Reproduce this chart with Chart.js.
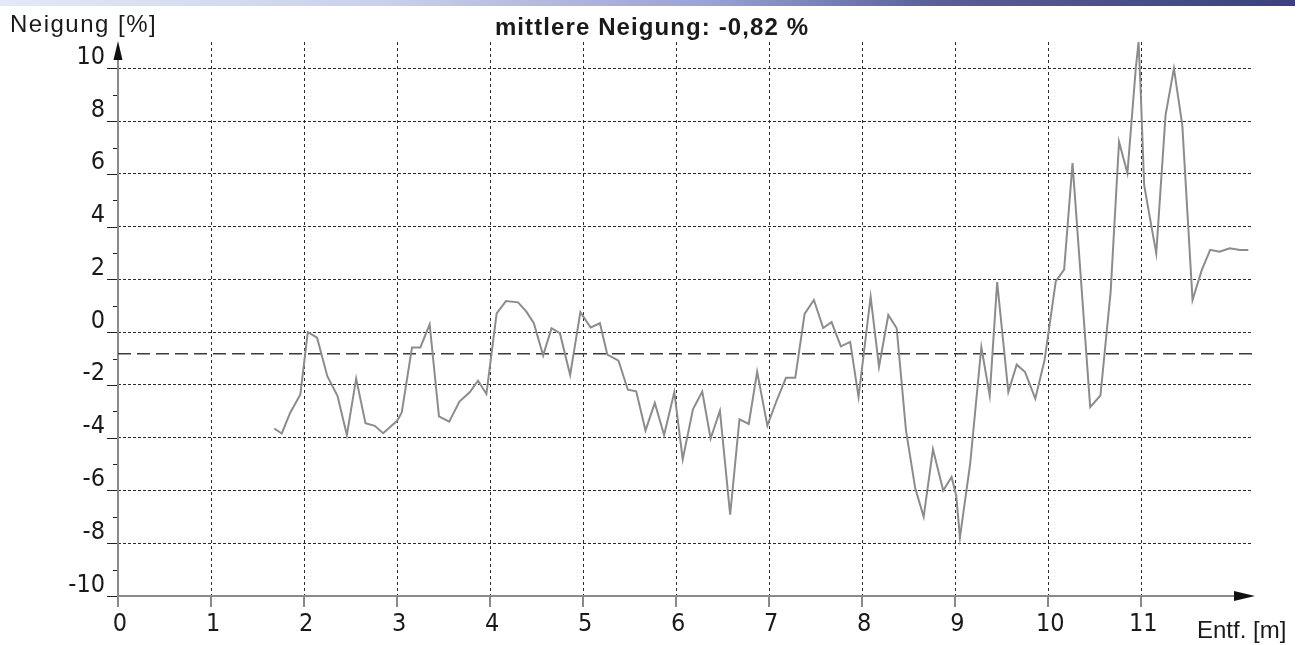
<!DOCTYPE html>
<html><head><meta charset="utf-8">
<script src="https://cdn.jsdelivr.net/npm/chart.js@4.4.1/dist/chart.umd.min.js"></script>
<style>
html,body{margin:0;padding:0;background:#fff;}
#wrap{position:relative;width:1299px;height:645px;overflow:hidden;background:#fff;}
#bar{position:absolute;left:0;top:0;width:1295px;height:6px;background:linear-gradient(to right,#e4e9f6 0%,#c9d0ea 30%,#9aa2cf 55%,#5a5f9a 72%,#3c4080 100%);}
canvas{position:absolute;left:0;top:0;}
</style></head>
<body><div id="wrap"><canvas id="c" width="1299" height="645"></canvas><div id="bar"></div></div>
<script>
const TITLE = 'mittlere Neigung: -0,82 %';
const Y_LABEL = 'Neigung [%]';
const X_LABEL = 'Entf. [m]';
const MEAN = -0.82;
const X_MAX = 12.2;
const Y_MIN = -10;
const Y_MAX = 11;
const X_TICKS = [0,1,2,3,4,5,6,7,8,9,10,11];
const Y_TICKS = [-10,-8,-6,-4,-2,0,2,4,6,8,10];
const Y_MINOR = [-9,-7,-5,-3,-1,1,3,5,7,9];
const DIST = [1.68,1.76,1.85,1.96,2.04,2.14,2.25,2.36,2.46,2.56,
  2.66,2.76,2.85,3.00,3.05,3.16,3.25,3.35,3.45,3.56,
  3.67,3.78,3.87,3.96,4.07,4.17,4.30,4.39,4.47,4.57,
  4.66,4.75,4.86,4.97,5.08,5.18,5.26,5.38,5.48,5.57,
  5.67,5.77,5.87,5.98,6.07,6.18,6.28,6.37,6.47,6.58,
  6.68,6.78,6.87,6.98,7.08,7.18,7.28,7.38,7.48,7.58,
  7.67,7.77,7.87,7.96,8.09,8.18,8.28,8.37,8.47,8.57,
  8.66,8.76,8.87,8.96,9.01,9.05,9.16,9.28,9.37,9.45,
  9.57,9.66,9.75,9.86,9.96,10.08,10.17,10.26,10.45,10.56,
  10.67,10.76,10.85,10.94,10.97,10.99,11.03,11.08,11.16,11.26,
  11.35,11.44,11.55,11.65,11.74,11.84,11.95,12.06,12.15];
const SLOPE = [-3.65,-3.84,-3.06,-2.36,0.0,-0.21,-1.67,-2.42,-3.90,-1.76,
  -3.45,-3.55,-3.83,-3.36,-3.04,-0.58,-0.58,0.30,-3.19,-3.39,
  -2.63,-2.28,-1.84,-2.34,0.71,1.18,1.13,0.78,0.34,-0.88,
  0.15,-0.04,-1.62,0.76,0.18,0.34,-0.85,-1.08,-2.18,-2.24,
  -3.73,-2.68,-3.90,-2.27,-4.82,-2.92,-2.25,-4.03,-2.98,-6.92,
  -3.30,-3.48,-1.50,-3.54,-2.59,-1.73,-1.73,0.69,1.22,0.16,
  0.38,-0.54,-0.37,-2.45,1.34,-1.31,0.65,0.15,-3.72,-5.93,
  -7.00,-4.44,-6.00,-5.49,-6.2,-7.78,-4.98,-0.57,-2.40,1.90,
  -2.27,-1.23,-1.51,-2.52,-1.05,1.93,2.37,6.41,-2.84,-2.4,
  1.54,7.22,6.03,10.0,11.0,9.4,5.58,4.57,2.99,8.23,
  10.0,7.85,1.22,2.36,3.12,3.05,3.18,3.12,3.12];

const TICK_FONT = {family: "'Liberation Sans Narrow', 'Arial Narrow', 'DejaVu Sans Condensed', sans-serif", size: 25};
const TEXT_COLOR = '#1a1a1a';

const decor = {
  id: 'decor',
  beforeDatasetsDraw(chart) {
    const {ctx, chartArea: a, scales: {x, y}} = chart;
    ctx.save();
    ctx.setLineDash([]);
    ctx.strokeStyle = '#222'; ctx.lineWidth = 1;
    Y_TICKS.forEach(v => { const py = Math.round(y.getPixelForValue(v)) + 0.5; ctx.beginPath(); ctx.moveTo(a.left - 11, py); ctx.lineTo(a.left, py); ctx.stroke(); });
    Y_MINOR.forEach(v => { const py = Math.round(y.getPixelForValue(v)) + 0.5; ctx.beginPath(); ctx.moveTo(a.left - 5, py); ctx.lineTo(a.left, py); ctx.stroke(); });
    ctx.strokeStyle = '#8a8a8a'; ctx.lineWidth = 2;
    X_TICKS.forEach(v => { const px = Math.round(x.getPixelForValue(v)); ctx.beginPath(); ctx.moveTo(px, a.bottom); ctx.lineTo(px, a.bottom + 11); ctx.stroke(); });
    ctx.beginPath(); ctx.moveTo(a.left, a.bottom); ctx.lineTo(a.left, a.top + 12); ctx.stroke();
    ctx.beginPath(); ctx.moveTo(a.left, a.bottom); ctx.lineTo(a.right - 15, a.bottom); ctx.stroke();
    ctx.fillStyle = '#111';
    ctx.beginPath(); ctx.moveTo(a.left, a.top - 1); ctx.lineTo(a.left - 4.5, a.top + 18); ctx.lineTo(a.left + 4.5, a.top + 18); ctx.closePath(); ctx.fill();
    ctx.beginPath(); ctx.moveTo(a.right + 2, a.bottom); ctx.lineTo(a.right - 19, a.bottom - 5); ctx.lineTo(a.right - 19, a.bottom + 5); ctx.closePath(); ctx.fill();
    ctx.restore();
  },
  afterDraw(chart) {
    const {ctx} = chart;
    ctx.save();
    ctx.fillStyle = TEXT_COLOR;
    ctx.textBaseline = 'alphabetic';
    ctx.font = "24px 'Liberation Sans', Arial, sans-serif";
    ctx.textAlign = 'left';
    ctx.letterSpacing = '1.5px';
    ctx.fillText(Y_LABEL, 10, 32);
    ctx.letterSpacing = '0px';
    ctx.fillText(X_LABEL, 1197, 638);
    ctx.font = "bold 24px 'Liberation Sans', Arial, sans-serif";
    ctx.textAlign = 'center';
    ctx.letterSpacing = '1.1px';
    ctx.fillText(TITLE, 652, 35);
    ctx.letterSpacing = '0px';
    ctx.restore();
  }
};

new Chart(document.getElementById('c'), {
  type: 'line',
  data: {
    datasets: [
      {data: DIST.map((d, i) => ({x: d, y: SLOPE[i]})), borderColor: '#8c8c8c', borderWidth: 2, pointRadius: 0, tension: 0, fill: false, clip: false},
      {data: [{x: 0, y: MEAN}, {x: X_MAX, y: MEAN}], borderColor: '#3a3a3a', borderWidth: 1.5, borderDash: [13, 6], pointRadius: 0, fill: false}
    ]
  },
  options: {
    responsive: false,
    animation: false,
    devicePixelRatio: 1,
    layout: {padding: {top: 42, right: 46, left: 0, bottom: 0}},
    plugins: {legend: {display: false}, tooltip: {enabled: false}, title: {display: false}},
    scales: {
      x: {
        type: 'linear', min: 0, max: X_MAX,
        afterBuildTicks: s => { s.ticks = X_TICKS.map(v => ({value: v})); },
        afterFit: s => { s.height = 49; },
        grid: {drawTicks: false, color: c => (c.tick && c.tick.value === 0) ? 'rgba(0,0,0,0)' : '#2a2a2a', lineWidth: 1},
        border: {display: false, dash: [3, 3]},
        ticks: {font: TICK_FONT, color: TEXT_COLOR, padding: 13, labelOffset: 2, maxRotation: 0, autoSkip: false, callback: v => String(v)}
      },
      y: {
        type: 'linear', min: Y_MIN, max: Y_MAX,
        afterBuildTicks: s => { s.ticks = Y_TICKS.map(v => ({value: v})); },
        afterFit: s => { s.width = 118; },
        grid: {drawTicks: false, color: c => (c.tick && c.tick.value === Y_MIN) ? 'rgba(0,0,0,0)' : '#2a2a2a', lineWidth: 1},
        border: {display: false, dash: [3, 2]},
        ticks: {font: TICK_FONT, color: TEXT_COLOR, padding: 13, labelOffset: -11, autoSkip: false, callback: v => String(v)}
      }
    }
  },
  plugins: [decor]
});
</script>
</body></html>
